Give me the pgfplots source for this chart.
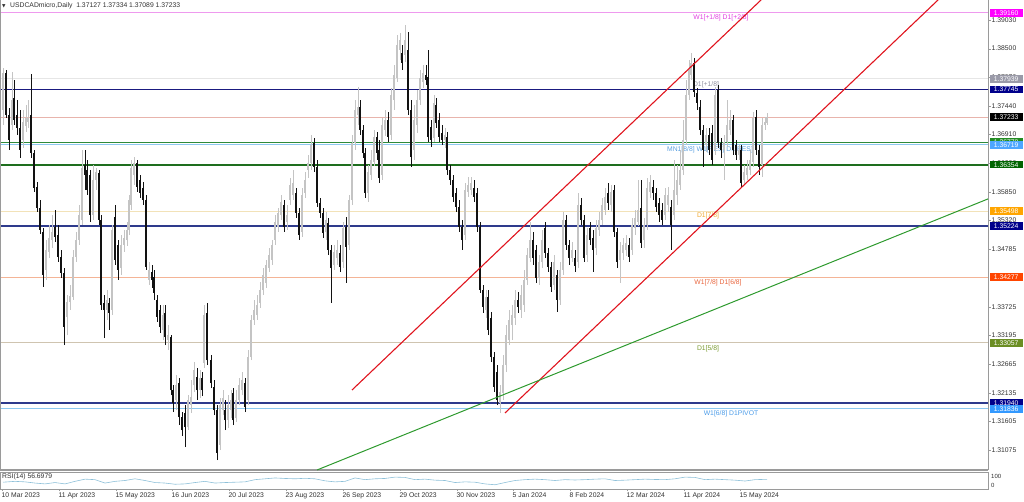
\documentclass[border=0pt]{standalone}
\usepackage{fontspec}
\setmainfont{Liberation Sans}
\newfontfamily\symfont{DejaVu Sans}
\usepackage{pgfplots}
\usepackage{pgfplotstable}
\pgfplotsset{compat=1.18}

\definecolor{upc}{HTML}{C4C4C4}
\definecolor{dnc}{HTML}{121212}
\definecolor{framec}{HTML}{9A9A9A}
\definecolor{tickc}{HTML}{303030}
\definecolor{navyl}{HTML}{1A1A80}
\definecolor{violetl}{HTML}{EE9AEE}
\definecolor{lgray}{HTML}{E6E6E6}
\definecolor{rosel}{HTML}{E8B4AC}
\definecolor{greenl}{HTML}{2E8B3A}
\definecolor{skyl}{HTML}{8CC8F0}
\definecolor{dgreenl}{HTML}{1E6E1E}
\definecolor{wheatl}{HTML}{F2E2B8}
\definecolor{slatel}{HTML}{2E3A8C}
\definecolor{salmonl}{HTML}{F4B496}
\definecolor{tanl}{HTML}{CFC4B0}
\definecolor{chred}{HTML}{E0141E}
\definecolor{chgreen}{HTML}{2E9A2E}
\definecolor{rsic}{HTML}{8EC0D8}
\definecolor{bxmag}{HTML}{FF00FF}
\definecolor{bxgray}{HTML}{9A9AA8}
\definecolor{bxnavy}{HTML}{00008B}
\definecolor{bxgreen}{HTML}{228B22}
\definecolor{bxsky}{HTML}{4DA6FF}
\definecolor{bxdgreen}{HTML}{006400}
\definecolor{bxorange}{HTML}{FFA500}
\definecolor{bxred}{HTML}{FF4500}
\definecolor{bxolive}{HTML}{6B8E23}
\definecolor{bxdodger}{HTML}{3399FF}
\definecolor{txmag}{HTML}{E040E0}
\definecolor{txgray}{HTML}{9090A0}
\definecolor{txsky}{HTML}{5AA0E0}
\definecolor{txorange}{HTML}{F0A830}
\definecolor{txred}{HTML}{E8643C}
\definecolor{txolive}{HTML}{7A9A30}
\definecolor{txdodger}{HTML}{4A9BE8}

\newcommand{\lab}{\fontsize{6.8}{8}\selectfont}

% candles, in screen pixels (x from left, o h l c from top); price = 1.394 - 0.000185*px
\pgfplotstableread{
x o h l c
3 110 68 125 73
12 125 72 130 100
23 140 110 148 122
26 126 105 132 118
28 122 100 128 118
46 270 240 280 250
49 252 225 258 238
52 240 215 248 232
67 317 295 335 302
70 302 285 310 296
73 297 250 300 257
76 257 232 262 240
79 240 205 245 215
82 220 150 225 168
93 215 165 220 180
96 180 168 190 172
107 310 290 320 300
112 310 225 315 230
121 268 235 275 245
124 245 230 252 238
127 240 222 246 230
129 230 195 235 200
131 205 160 210 168
134 175 157 185 163
149 280 262 285 270
163 330 305 340 315
168 340 325 350 335
176 400 375 410 385
188 427 395 430 400
191 405 380 413 397
194 385 362 392 370
200 390 370 398 378
204 363 305 368 315
220 445 398 450 405
223 410 390 415 398
228 420 395 428 405
231 410 390 418 400
236 418 390 422 400
239 400 378 405 385
242 390 372 395 380
248 400 350 405 357
251 357 315 360 320
254 320 300 325 310
257 315 295 320 305
260 303 282 308 290
263 290 268 295 275
266 283 260 288 265
269 268 248 272 255
272 260 240 265 245
275 240 215 245 222
278 227 208 232 213
281 215 195 220 202
287 222 205 230 215
290 200 178 205 185
293 195 170 200 183
302 232 188 237 195
305 193 172 198 180
308 170 155 178 163
311 163 135 170 145
326 232 212 240 220
334 265 245 270 252
337 258 240 265 250
343 262 222 268 228
349 245 195 250 200
352 200 135 205 143
355 143 100 150 110
358 115 87 125 107
368 193 165 202 172
371 175 150 180 160
374 162 130 166 137
382 175 118 180 125
385 130 110 136 120
391 135 88 140 95
394 100 65 110 75
397 78 35 82 45
400 50 33 60 40
405 55 25 62 40
414 150 105 160 120
417 125 90 133 100
420 100 70 105 78
423 82 65 88 73
434 138 95 142 103
445 140 128 148 135
465 235 183 240 190
468 192 177 197 185
471 190 177 195 183
486 310 290 318 297
500 403 385 413 392
503 393 355 400 365
506 365 325 372 335
509 340 310 345 320
512 325 305 340 315
515 318 290 325 300
521 310 285 318 295
524 305 270 312 280
527 280 248 285 255
530 258 222 262 240
539 278 255 285 262
542 262 230 268 240
554 285 255 290 262
560 300 262 305 270
563 270 212 275 220
572 258 242 262 250
578 262 193 268 205
587 255 228 262 235
596 248 220 255 228
599 230 212 236 220
602 220 198 225 205
605 210 188 215 197
611 205 185 212 192
620 260 242 283 250
623 253 238 260 245
626 250 235 256 243
632 250 218 255 225
635 228 210 235 218
638 222 180 226 210
644 240 218 248 225
647 225 178 230 188
650 192 175 198 182
665 215 188 220 195
668 205 187 212 195
674 215 160 220 190
677 195 165 205 180
680 185 150 190 170
683 170 120 175 140
686 140 80 145 95
689 95 60 100 70
691 75 53 80 63
706 145 128 152 135
715 150 87 155 95
724 150 135 180 142
727 142 100 147 125
730 130 110 135 120
739 155 145 160 150
744 180 165 185 172
747 175 160 180 168
750 170 150 175 160
753 162 112 167 118
762 165 118 177 125
765 125 117 130 122
767 122.7 113 125 117
}\up

\pgfplotstableread{
x o h l c
6 73 70 118 115
9 115 108 150 140
14 98 80 125 120
17 115 100 135 128
20 128 110 158 150
31 115 74 158 153
34 153 150 192 188
37 187 182 212 208
40 208 200 234 230
43 232 228 287 275
55 227 210 242 237
58 235 225 262 257
61 257 250 278 273
64 273 268 345 327
85 165 150 190 175
87 170 160 195 190
90 175 170 222 215
99 173 170 225 220
101 220 215 310 305
104 303 295 338 310
109 303 298 330 313
115 217 205 265 260
118 245 240 280 270
137 163 160 192 187
140 180 175 198 193
143 188 182 205 200
146 200 195 270 267
152 272 265 288 280
154 277 270 300 293
157 300 295 322 317
160 310 305 333 327
165 313 305 345 337
171 337 335 395 390
173 390 385 412 403
179 383 378 425 417
182 417 412 436 430
185 413 405 447 427
197 377 368 400 390
202 378 372 396 390
207 313 303 365 360
211 360 355 388 383
214 387 380 415 410
217 410 405 460 453
225 410 400 430 420
233 393 388 425 420
245 383 378 412 407
284 205 200 232 227
296 193 188 218 213
299 213 208 240 235
314 143 138 172 167
317 167 160 207 203
320 203 198 218 213
323 213 208 238 233
328 223 218 255 250
331 250 245 303 268
340 253 245 272 267
346 227 217 283 247
360 107 100 135 130
363 130 125 158 153
365 153 148 198 193
377 137 132 160 153
379 150 140 183 178
388 120 112 142 137
402 53 45 70 63
408 50 32 115 110
411 110 100 167 157
426 75 65 85 80
428 77 50 142 137
431 127 120 147 140
436 105 98 128 123
439 120 113 142 137
442 133 125 145 140
447 137 132 175 170
450 170 165 185 180
453 180 175 202 197
456 193 188 212 207
459 207 200 232 227
462 227 220 250 240
474 188 180 202 197
477 193 188 232 227
480 227 222 293 290
483 290 285 313 307
488 297 290 335 330
491 318 312 362 357
494 357 352 392 387
497 372 365 405 400
518 300 292 313 307
533 240 232 265 258
536 250 245 283 278
545 228 222 258 253
548 253 248 272 267
551 267 262 292 287
557 275 270 312 300
566 220 215 250 245
569 245 240 265 258
575 258 250 272 266
581 205 198 225 220
584 220 215 262 258
590 228 222 245 240
593 238 230 272 250
608 193 183 210 203
614 190 185 237 232
617 232 228 268 262
629 245 238 262 257
641 208 180 248 243
653 187 180 200 193
656 193 188 212 207
659 203 198 222 215
662 210 203 225 220
671 207 200 250 225
694 63 58 97 92
697 93 88 110 103
700 107 100 135 130
703 130 125 167 150
709 135 128 155 150
712 133 125 165 160
718 90 85 148 143
721 143 138 158 150
733 120 115 155 150
736 145 140 160 155
741 150 145 188 183
756 117 110 155 150
759 150 145 175 167
}\dn

\begin{document}
\begin{tikzpicture}
\useasboundingbox (0,0) rectangle (1024pt,501pt);

\begin{axis}[
  at={(0pt,31pt)}, anchor=south west, scale only axis,
  width=988pt, height=470pt,
  xmin=0, xmax=988, ymin=1.30705, ymax=1.394,
  clip=false,
  axis line style={draw=none},
  xtick=\empty,
  ytick={1.39030,1.38500,1.37970,1.37440,1.36910,1.36380,1.35850,1.35320,1.34785,1.33725,1.33195,1.32665,1.32135,1.31605,1.31075},
  yticklabels={1.39030,1.38500,1.37970,1.37440,1.36910,1.36380,1.35850,1.35320,1.34785,1.33725,1.33195,1.32665,1.32135,1.31605,1.31075},
  ytick pos=right, yticklabel pos=right,
  tick align=outside, major tick length=2.5pt,
  tick style={draw=framec},
  yticklabel style={font=\lab, text=tickc, inner sep=1pt},
  candle/.style={draw=none, mark=none, forget plot,
    error bars/.cd, y dir=plus, y explicit, error mark=none},
]
% frame
\draw[color=framec, line width=0.8pt] (axis cs:0.4,1.30705) -- (axis cs:0.4,1.394);
\draw[color=framec, line width=0.8pt] (axis cs:988,1.30705) -- (axis cs:988,1.394);
\draw[color=framec, line width=1.6pt] (axis cs:0,1.30705) -- (axis cs:988,1.30705);

% horizontal levels
\addplot[violetl, line width=1pt] coordinates {(1,1.39160) (988,1.39160)};
\addplot[lgray, line width=1pt] coordinates {(1,1.37939) (988,1.37939)};
\addplot[navyl, line width=1.4pt] coordinates {(1,1.37745) (988,1.37745)};
\addplot[rosel, line width=0.8pt] coordinates {(1,1.37233) (988,1.37233)};
\addplot[greenl, line width=1.1pt] coordinates {(1,1.36770) (988,1.36770)};
\addplot[skyl, line width=1pt] coordinates {(1,1.36719) (988,1.36719)};
\addplot[dgreenl, line width=1.8pt] coordinates {(1,1.36354) (988,1.36354)};
\addplot[wheatl, line width=0.8pt] coordinates {(1,1.35498) (988,1.35498)};
\addplot[slatel, line width=1.8pt] coordinates {(1,1.35224) (988,1.35224)};
\addplot[salmonl, line width=0.8pt] coordinates {(1,1.34277) (988,1.34277)};
\addplot[tanl, line width=0.8pt] coordinates {(1,1.33057) (988,1.33057)};
\addplot[slatel, line width=1.8pt] coordinates {(1,1.31940) (988,1.31940)};
\addplot[skyl, line width=1pt] coordinates {(1,1.31836) (988,1.31836)};

% level names
\node[font=\lab, text=txmag] at (axis cs:721,1.39067) {W1[+1/8] D1[+2/8]};
\node[font=\lab, text=txgray] at (axis cs:706,1.37827) {D1[+1/8]};
\node[font=\lab, text=txsky] at (axis cs:710,1.36625) {MN1[8/8] W1[RES] D1[RES]};
\node[font=\lab, text=txorange] at (axis cs:708,1.35404) {D1[7/8]};
\node[font=\lab, text=txred] at (axis cs:718,1.34165) {W1[7/8] D1[6/8]};
\node[font=\lab, text=txolive] at (axis cs:708,1.32944) {D1[5/8]};
\node[font=\lab, text=txdodger] at (axis cs:731,1.31741) {W1[6/8] D1PIVOT};

% candles: wicks then bodies
\addplot[candle, error bar style={draw=upc, line width=0.7pt}]
  table[x=x, y expr={1.394-0.000185*\thisrow{l}}, y error plus expr={0.000185*(\thisrow{l}-\thisrow{h})}] {\up};
\addplot[candle, error bar style={draw=upc, line width=2.1pt}]
  table[x=x, y expr={1.394-0.000185*\thisrow{o}}, y error plus expr={0.000185*(\thisrow{o}-\thisrow{c})}] {\up};
\addplot[candle, error bar style={draw=dnc, line width=0.7pt}]
  table[x=x, y expr={1.394-0.000185*\thisrow{l}}, y error plus expr={0.000185*(\thisrow{l}-\thisrow{h})}] {\dn};
\addplot[candle, error bar style={draw=dnc, line width=2.1pt}]
  table[x=x, y expr={1.394-0.000185*\thisrow{c}}, y error plus expr={0.000185*(\thisrow{c}-\thisrow{o})}] {\dn};

% trend lines
\addplot[chred, line width=1.1pt] coordinates {(352,1.32185) (761,1.394)};
\addplot[chred, line width=1.1pt] coordinates {(505,1.31760) (938,1.394)};
\addplot[chgreen, line width=1pt] coordinates {(317,1.30705) (988,1.35720)};

% title
\node[anchor=west, inner sep=0pt, font=\symfont\fontsize{4.5}{5}\selectfont, text=tickc] at (axis cs:2,1.39289) {▼};
\node[anchor=west, inner sep=0pt, font=\lab, text=tickc] at (axis cs:10,1.39289) {USDCADmicro,Daily\ \ 1.37127 1.37334 1.37089 1.37233};

% anchors for the price boxes
\coordinate (b1) at (axis cs:989.5,1.39160);
\coordinate (b2) at (axis cs:989.5,1.37939);
\coordinate (b3) at (axis cs:989.5,1.37745);
\coordinate (b4) at (axis cs:989.5,1.37233);
\coordinate (b5) at (axis cs:989.5,1.36770);
\coordinate (b6) at (axis cs:989.5,1.36719);
\coordinate (b7) at (axis cs:989.5,1.36354);
\coordinate (b8) at (axis cs:989.5,1.35498);
\coordinate (b9) at (axis cs:989.5,1.35224);
\coordinate (b10) at (axis cs:989.5,1.34277);
\coordinate (b11) at (axis cs:989.5,1.33057);
\coordinate (b12) at (axis cs:989.5,1.31940);
\coordinate (b13) at (axis cs:989.5,1.31836);
\end{axis}

\tikzset{pbox/.style={anchor=west, text=white, font=\lab, minimum width=33pt, inner xsep=1pt, inner ysep=1.4pt, text height=4.9pt, text depth=0pt}}
\node[pbox, fill=bxmag] at (b1) {1.39160};
\node[pbox, fill=bxgray] at (b2) {1.37939};
\node[pbox, fill=bxnavy] at (b3) {1.37745};
\node[pbox, fill=black] at (b4) {1.37233};
\node[pbox, fill=bxgreen] at (b5) {1.36770};
\node[pbox, fill=bxsky] at (b6) {1.36719};
\node[pbox, fill=bxdgreen] at (b7) {1.36354};
\node[pbox, fill=bxorange] at (b8) {1.35498};
\node[pbox, fill=bxnavy] at (b9) {1.35224};
\node[pbox, fill=bxred] at (b10) {1.34277};
\node[pbox, fill=bxolive] at (b11) {1.33057};
\node[pbox, fill=bxnavy] at (b12) {1.31940};
\node[pbox, fill=bxdodger] at (b13) {1.31836};

% RSI panel with the date axis
\begin{axis}[
  at={(0pt,12pt)}, anchor=south west, scale only axis,
  width=988pt, height=17pt,
  xmin=0, xmax=988, ymin=0, ymax=100,
  clip=false,
  axis line style={draw=framec, line width=0.8pt},
  ytick=\empty,
  xtick={2,59,116,172,229,286,343,400,457,513,570,627,684,740},
  xticklabels={10 Mar 2023,11 Apr 2023,15 May 2023,16 Jun 2023,20 Jul 2023,23 Aug 2023,26 Sep 2023,29 Oct 2023,30 Nov 2023,5 Jan 2024,8 Feb 2024,12 Mar 2024,11 Apr 2024,15 May 2024},
  xtick pos=bottom, tick align=outside, major tick length=2pt,
  tick style={draw=framec},
  xticklabel style={font=\lab, text=tickc, anchor=north west, inner sep=0.5pt, text height=5pt, text depth=1.2pt, xshift=-1pt, yshift=-0.5pt},
]
\addplot[rsic, line width=0.6pt] coordinates {
(3,40) (15,45) (25,42) (35,35) (45,30) (55,38) (65,30) (75,45) (85,58) (95,55)
(105,35) (115,45) (125,50) (135,60) (145,50) (155,38) (165,35) (175,28) (185,30) (195,38)
(205,45) (215,35) (225,38) (235,40) (245,42) (255,55) (265,60) (275,65) (285,62) (295,60)
(305,63) (315,60) (325,48) (335,42) (345,45) (355,65) (365,55) (375,60) (385,62) (395,70)
(405,68) (415,55) (425,58) (435,52) (445,50) (455,38) (465,42) (475,40) (485,30) (495,25)
(505,38) (515,50) (525,55) (535,58) (545,55) (555,50) (565,55) (575,53) (585,55) (595,58)
(605,60) (615,50) (625,52) (635,55) (645,58) (655,56) (665,55) (675,60) (685,70) (695,68)
(705,55) (715,58) (725,55) (735,52) (745,47) (755,55) (767,57)};
\node[anchor=west, inner sep=0pt, font=\lab, text=tickc] at (axis cs:2,74) {RSI(14) 56.6979};
\node[anchor=west, inner sep=0pt, font=\fontsize{6}{7}\selectfont, text=tickc] at (axis cs:991,72) {100};
\node[anchor=west, inner sep=0pt, font=\fontsize{6}{7}\selectfont, text=tickc] at (axis cs:991,22) {0};
\end{axis}
\end{tikzpicture}
\end{document}
